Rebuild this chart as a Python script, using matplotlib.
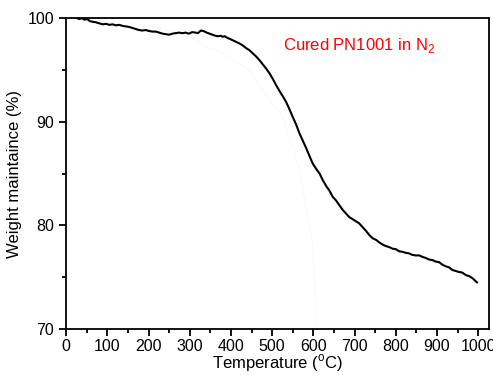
import matplotlib
matplotlib.use("Agg")
import matplotlib.pyplot as plt
from matplotlib.ticker import MultipleLocator

plt.rcParams['font.family'] = ['Liberation Sans', 'DejaVu Sans']
plt.rcParams['mathtext.fontset'] = 'custom'
plt.rcParams['mathtext.rm'] = 'Liberation Sans'

# Black TGA curve (cured PN1001 in N2)
temp = [27, 32, 38, 44, 52, 58, 64, 72, 80, 89, 97, 105, 113, 121, 129, 137, 145, 153, 161, 169,
        177, 185, 193, 202, 210, 218, 226, 234, 242, 250, 258, 266, 274, 282, 290, 298, 306, 314,
        320, 327, 334, 341, 348, 355, 362, 369, 376, 379, 385, 391, 397, 405, 413, 421, 429, 437,
        445, 453, 461, 469, 477, 486, 494, 502, 510, 518, 526, 534, 542, 550, 558, 566, 574, 582,
        590, 598, 606, 615, 623, 631, 639, 647, 655, 663, 671, 679, 687, 695, 703, 711, 719, 727,
        736, 744, 752, 760, 768, 776, 784, 792, 800, 808, 816, 824, 832, 840, 848, 857, 865, 873,
        881, 889, 897, 905, 913, 921, 929, 937, 945, 953, 961, 970, 978, 986, 994, 997]
weight = [100.0, 99.9, 100.0, 99.85, 99.9, 99.7, 99.65, 99.6, 99.5, 99.4, 99.45, 99.35, 99.4, 99.3, 99.35, 99.25,
          99.2, 99.15, 99.05, 98.95, 98.85, 98.8, 98.85, 98.75, 98.7, 98.7, 98.6, 98.5, 98.45, 98.4, 98.5, 98.55,
          98.6, 98.55, 98.6, 98.5, 98.65, 98.6, 98.55, 98.8, 98.75, 98.6, 98.5, 98.4, 98.3, 98.25, 98.3, 98.2,
          98.25, 98.1, 98.0, 97.85, 97.7, 97.55, 97.35, 97.1, 96.9, 96.6, 96.3, 95.95, 95.55, 95.1, 94.65, 94.1,
          93.5, 92.95, 92.45, 91.9, 91.2, 90.45, 89.75, 88.9, 88.2, 87.5, 86.75, 86.0, 85.5, 85.0, 84.35, 83.8,
          83.35, 82.75, 82.4, 81.95, 81.5, 81.15, 80.8, 80.6, 80.4, 80.2, 79.85, 79.5, 79.05, 78.75, 78.6, 78.35,
          78.15, 78.0, 77.9, 77.75, 77.7, 77.5, 77.45, 77.35, 77.3, 77.15, 77.1, 77.1, 76.95, 76.85, 76.7, 76.65,
          76.5, 76.45, 76.2, 76.05, 75.95, 75.7, 75.6, 75.5, 75.45, 75.2, 75.1, 74.9, 74.6, 74.5]

# Faint pink dotted curve
temp2 = [130, 250, 307, 341, 365, 421, 445, 477, 526, 549, 566, 598, 609]
weight2 = [99.8, 98.8, 98.1, 97.2, 96.9, 95.6, 95.0, 93.0, 90.4, 87.6, 85.3, 78.3, 70.4]

fig = plt.figure(figsize=(4.93, 3.75), dpi=100)
ax = fig.add_axes([0.134, 0.1227, 0.857, 0.829])

ax.plot(temp2, weight2, color='#ffeaea', lw=0.8, ls=':')
ax.plot(temp, weight, color='black', lw=1.5)

ax.set_xlim(0, 1025)
ax.set_ylim(70, 100)
ax.xaxis.set_major_locator(MultipleLocator(100))
ax.xaxis.set_minor_locator(MultipleLocator(50))
ax.yaxis.set_major_locator(MultipleLocator(10))
ax.yaxis.set_minor_locator(MultipleLocator(5))
ax.tick_params(which='both', direction='out', top=False, right=False, labelsize=11.5, width=1.3)
ax.tick_params(which='major', length=5)
ax.tick_params(which='minor', length=3)
ax.tick_params(axis='x', pad=2)
for s in ax.spines.values():
    s.set_linewidth(1.3)

ax.set_xlabel('Temperature ($^{\\mathrm{o}}$C)', fontsize=12, labelpad=-1)
ax.set_ylabel('Weight maintaince (%)', fontsize=12, labelpad=4)

ax.text(711, 97.4, 'Cured PN1001 in N$_{\\mathrm{2}}$', color='red', fontsize=12,
        ha='center', va='center')

fig.savefig('out.png', dpi=100)
